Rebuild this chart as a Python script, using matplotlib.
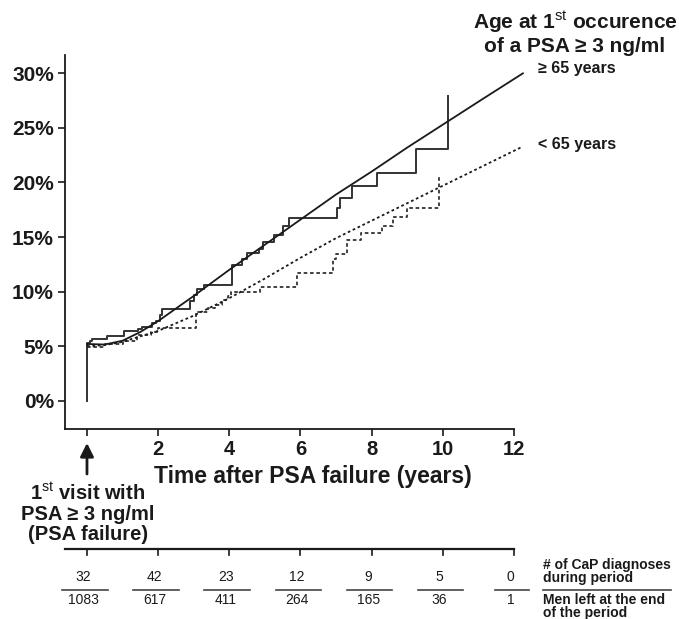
import matplotlib
matplotlib.use("Agg")
import matplotlib.pyplot as plt

plt.rcParams['font.family'] = ['Liberation Sans', 'DejaVu Sans']
plt.rcParams['mathtext.fontset'] = 'custom'
plt.rcParams['mathtext.rm'] = 'Liberation Sans'
plt.rcParams['mathtext.bf'] = 'Liberation Sans:bold'
plt.rcParams['mathtext.it'] = 'Liberation Sans:italic'

# Kaplan-Meier style step curves (years, % with CaP)
old_t = [0, 0, 0.08, 0.15, 0.55, 1.03, 1.42, 1.55, 1.83, 1.95, 2.05, 2.12, 2.9, 3.0, 3.1, 3.3,
         4.08, 4.36, 4.5, 4.83, 4.95, 5.26, 5.5, 5.67, 7.03, 7.1, 7.45, 8.15, 9.25, 10.15]
old_s = [0, 5.3, 5.5, 5.7, 5.9, 6.4, 6.6, 6.8, 7.1, 7.3, 7.9, 8.4, 9.1, 9.7, 10.2, 10.6,
         12.4, 13.0, 13.5, 13.9, 14.5, 15.2, 16.0, 16.7, 17.7, 18.6, 19.7, 20.9, 23.05, 27.95]

young_t = [0, 0.5, 1.0, 1.4, 1.8, 2.0, 3.05, 3.4, 3.6, 3.8, 3.95, 4.05, 4.85, 5.9,
           6.9, 7.0, 7.3, 7.7, 8.3, 8.6, 9.0, 9.9]
young_s = [4.9, 5.2, 5.5, 6.0, 6.3, 6.7, 8.1, 8.5, 8.8, 9.2, 9.6, 10.0, 10.4, 11.7,
           13.0, 13.4, 14.7, 15.4, 16.0, 16.8, 17.7, 20.5]

# fitted curves
fit_old_t = [0, 0.5, 1, 1.5, 2, 3, 4, 5, 6, 7, 8, 9, 10, 11, 12.25]
fit_old_y = [5.2, 5.15, 5.5, 6.3, 7.3, 9.6, 12.0, 14.3, 16.6, 18.9, 21.0, 23.2, 25.3, 27.4, 30.0]
fit_young_t = [0, 0.5, 1, 2, 3, 4, 5, 6, 7, 8, 9, 10, 11, 12.25]
fit_young_y = [5.0, 5.1, 5.4, 6.4, 7.8, 9.4, 11.2, 13.1, 14.9, 16.5, 18.1, 19.7, 21.3, 23.3]

# table below the chart
periods = [0, 2, 4, 6, 8, 10, 12]
diagnoses = ['32', '42', '23', '12', '9', '5', '0']
men_left = ['1083', '617', '411', '264', '165', '36', '1']

W, H = 679, 619
ink = '#1a1a1a'

fig = plt.figure(figsize=(W / 100, H / 100), dpi=100)
ax = fig.add_axes([65 / W, 1 - 429 / H, (514 - 65) / W, (429 - 55) / H])

ax.plot(old_t, old_s, drawstyle='steps-post', color='#333333', lw=1.4)
ax.plot(young_t, young_s, drawstyle='steps-post', color='#333333', lw=1.3, ls=(0, (2, 1.5)))
ax.plot(fit_old_t, fit_old_y, color=ink, lw=1.3, clip_on=False)
ax.plot(fit_young_t, fit_young_y, color=ink, lw=1.3, ls=(0, (1.5, 1.5)), clip_on=False)

ax.set_xlim(-0.618, 12)
ax.set_ylim(-2.59, 31.68)
ax.set_yticks([0, 5, 10, 15, 20, 25, 30])
ax.set_yticklabels([f'{v}%' for v in [0, 5, 10, 15, 20, 25, 30]], fontsize=15, fontweight='bold', color=ink)
ax.set_xticks(periods)
ax.set_xticklabels([''] + [str(p) for p in periods[1:]], fontsize=14.5, fontweight='bold', color=ink)
ax.tick_params(length=5, width=1.2, color=ink, pad=3)
for s in ['top', 'right']:
    ax.spines[s].set_visible(False)
for s in ['left', 'bottom']:
    ax.spines[s].set_linewidth(1.3)
    ax.spines[s].set_color(ink)

# labels
fig.text(313 / W, 1 - 477 / H, 'Time after PSA failure (years)', ha='center', va='center',
         fontsize=16.5, fontweight='bold', color=ink)
fig.text(575 / W, 1 - 22 / H, r'Age at 1$^{\mathrm{st}}$ occurence', ha='center', va='center',
         fontsize=15, fontweight='bold', color=ink)
fig.text(575 / W, 1 - 47 / H, 'of a PSA ≥ 3 ng/ml', ha='center', va='center',
         fontsize=15, fontweight='bold', color=ink)
fig.text(538 / W, 1 - 69 / H, '≥ 65 years', ha='left', va='center', fontsize=11.5, fontweight='bold', color=ink)
fig.text(538 / W, 1 - 145 / H, '< 65 years', ha='left', va='center', fontsize=11.5, fontweight='bold', color=ink)

ax.annotate('', xy=(0, 1 - 443 / H), xycoords=('data', 'figure fraction'),
            xytext=(0, 1 - 474 / H), textcoords=('data', 'figure fraction'),
            arrowprops=dict(arrowstyle='-|>', lw=2, color=ink, mutation_scale=20, shrinkA=0, shrinkB=0),
            annotation_clip=False)
for txt, y in [(r'1$^{\mathrm{st}}$ visit with', 493), ('PSA ≥ 3 ng/ml', 514), ('(PSA failure)', 535)]:
    fig.text(88 / W, 1 - y / H, txt, ha='center', va='center', fontsize=14.5, fontweight='bold', color=ink)

# table axes: same x scale as chart, y in pixels
tab = fig.add_axes([65 / W, 0, (514 - 65) / W, (H - 540) / H])
tab.set_xlim(-0.618, 12)
tab.set_ylim(H, 540)
tab.axis('off')
tab.plot([-0.618, 12], [548.5, 548.5], color=ink, lw=1.6, clip_on=False)
for i, p in enumerate(periods):
    tab.plot([p, p], [548.5, 555], color=ink, lw=1.2, clip_on=False)
    tab.text(p - 0.1, 577, diagnoses[i], ha='center', va='center', fontsize=10, color=ink)
    tab.text(p - 0.1, 600, men_left[i], ha='center', va='center', fontsize=10, color=ink)
    hw = 0.47 if i == len(periods) - 1 else 0.64
    tab.plot([p - 0.06 - hw, p - 0.06 + hw], [589.5, 589.5], color='#444444', lw=1.2, clip_on=False)

xr = 12.82
tab.text(xr, 565, '# of CaP diagnoses', ha='left', va='center', fontsize=10, fontweight='bold', color=ink, clip_on=False)
tab.text(xr, 578, 'during period', ha='left', va='center', fontsize=10, fontweight='bold', color=ink, clip_on=False)
tab.plot([xr, 16.41], [589.5, 589.5], color='#444444', lw=1.2, clip_on=False)
tab.text(xr, 600, 'Men left at the end', ha='left', va='center', fontsize=10, fontweight='bold', color=ink, clip_on=False)
tab.text(xr, 613, 'of the period', ha='left', va='center', fontsize=10, fontweight='bold', color=ink, clip_on=False)

fig.savefig('out.png', dpi=100)
